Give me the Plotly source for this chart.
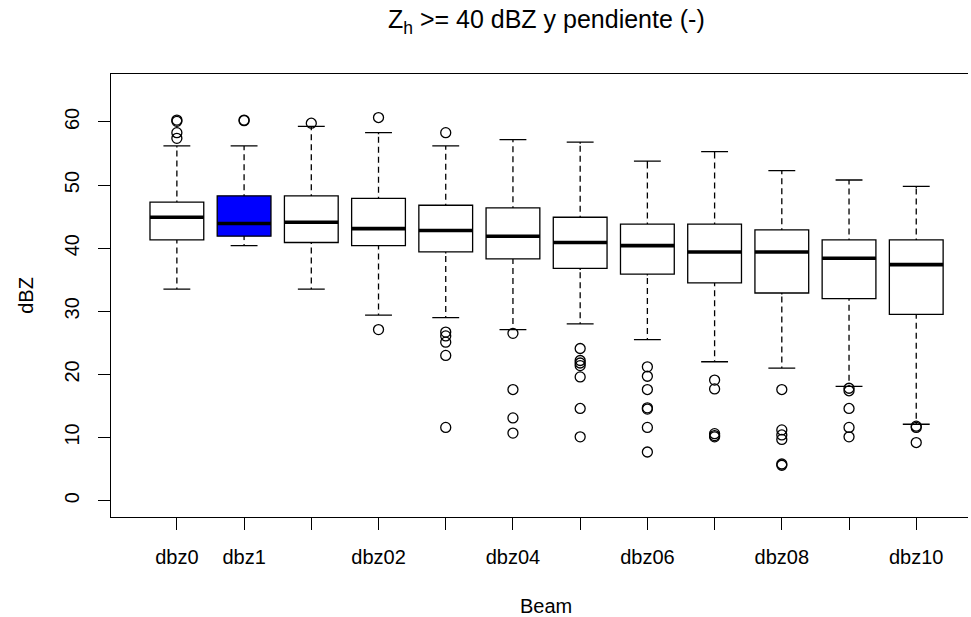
import plotly.graph_objects as go

# ---------------- data ----------------
categories = ["dbz0", "dbz1", "dbz01", "dbz02", "dbz03", "dbz04",
              "dbz05", "dbz06", "dbz07", "dbz08", "dbz09", "dbz10"]
# labels R managed to print (others were dropped for overlap)
tick_labels = ["dbz0", "dbz1", "", "dbz02", "", "dbz04",
               "", "dbz06", "", "dbz08", "", "dbz10"]

lower_whisker = [33.5, 40.4, 33.5, 29.4, 29.0, 27.1, 28.0, 25.5, 22.0, 21.0, 18.1, 12.1]
q1_values     = [41.3, 41.9, 40.9, 40.4, 39.4, 38.3, 36.8, 35.9, 34.5, 32.9, 32.0, 29.5]
median_values = [44.9, 43.9, 44.1, 43.1, 42.8, 41.9, 40.9, 40.4, 39.4, 39.4, 38.4, 37.4]
q3_values     = [47.3, 48.3, 48.3, 47.9, 46.8, 46.4, 44.9, 43.8, 43.8, 42.9, 41.3, 41.3]
upper_whisker = [56.2, 56.2, 59.3, 58.3, 56.2, 57.2, 56.8, 53.8, 55.3, 52.3, 50.8, 49.8]

outliers = [
    [60.3, 60.1, 58.3, 57.4],
    [60.3, 60.2],
    [59.8],
    [60.7, 27.1],
    [58.3, 26.7, 26.1, 25.1, 23.0, 11.6],
    [26.5, 17.6, 13.1, 10.7],
    [24.1, 22.2, 21.8, 21.4, 19.6, 14.6, 10.1],
    [21.2, 19.7, 17.6, 14.7, 14.5, 11.6, 7.7],
    [19.1, 17.7, 10.6, 10.3, 10.1],
    [17.6, 11.2, 10.4, 9.7, 5.8, 5.6],
    [17.8, 17.4, 14.6, 11.6, 10.1],
    [11.8, 11.6, 9.2],
]

fill_colors = ["white", "blue"] + ["white"] * 10

title_text = "Z<sub>h</sub> &gt;= 40 dBZ y pendiente (-)"
x_title = "Beam"
y_title = "dBZ"
y_ticks = [0, 10, 20, 30, 40, 50, 60]

# ---------------- figure ----------------
positions = list(range(1, len(categories) + 1))
label_pos = [p for p, t in zip(positions, tick_labels) if t]
label_txt = [t for t in tick_labels if t]
box_width = 0.8
half = box_width / 2

fig = go.Figure()

for i, name in enumerate(categories):
    fig.add_trace(go.Box(
        x=[positions[i]], name=name,
        q1=[q1_values[i]], median=[median_values[i]], q3=[q3_values[i]],
        lowerfence=[lower_whisker[i]], upperfence=[upper_whisker[i]],
        width=box_width, whiskerwidth=0.5,
        fillcolor=fill_colors[i],
        line=dict(color="black", width=1.3),
        boxpoints=False, hoverinfo="skip",
    ))

# dashed look of R whiskers: white dash pattern laid over the solid whisker
wx, wy = [], []
pad = 0.25
for i, p in enumerate(positions):
    wx += [p, p, None, p, p, None]
    wy += [q3_values[i] + pad, upper_whisker[i] - pad, None,
           lower_whisker[i] + pad, q1_values[i] - pad, None]
fig.add_trace(go.Scatter(
    x=wx, y=wy, mode="lines",
    line=dict(color="white", width=2.5, dash="4px,6px"),
    hoverinfo="skip", showlegend=False,
))

# thick median bars (R lwd = 3)
mx, my = [], []
for i, p in enumerate(positions):
    mx += [p - half, p + half, None]
    my += [median_values[i], median_values[i], None]
fig.add_trace(go.Scatter(
    x=mx, y=my, mode="lines",
    line=dict(color="black", width=3.6),
    hoverinfo="skip", showlegend=False,
))

# outliers
ox, oy = [], []
for i, vals in enumerate(outliers):
    ox += [positions[i]] * len(vals)
    oy += vals
fig.add_trace(go.Scatter(
    x=ox, y=oy, mode="markers",
    marker=dict(symbol="circle-open", size=10, color="black",
                line=dict(width=1.3, color="black")),
    hoverinfo="skip", showlegend=False,
))

fig.update_layout(
    width=971, height=617,
    margin=dict(l=111, r=3, t=74, b=100),
    paper_bgcolor="white", plot_bgcolor="white",
    font=dict(family="Liberation Sans, Arial, sans-serif", size=20, color="black"),
    showlegend=False,
    title=dict(text=title_text, x=0.508, xref="paper", xanchor="center",
               y=0.968, yref="container", yanchor="middle",
               font=dict(size=25, color="black")),
    xaxis=dict(
        range=[0.02, 12.77], automargin=False,
        tickmode="array", tickvals=label_pos, ticktext=label_txt,
        ticks="outside", ticklen=12, tickwidth=1.2, tickcolor="black",
        ticklabelstandoff=10,
        minor=dict(tickmode="array", tickvals=positions, ticks="outside",
                   ticklen=12, tickwidth=1.2, tickcolor="black", showgrid=False),
        showline=True, linecolor="black", linewidth=1.3, mirror=True,
        showgrid=False, zeroline=False,
    ),
    yaxis=dict(
        range=[-2.6, 67.6], automargin=False,
        tickmode="array", tickvals=y_ticks,
        tickangle=-90, ticklabelstandoff=11,
        ticks="outside", ticklen=12, tickwidth=1.2, tickcolor="black",
        showline=True, linecolor="black", linewidth=1.3, mirror=False,
        showgrid=False, zeroline=False,
    ),
    annotations=[
        dict(text=x_title, xref="paper", yref="paper", x=0.508, y=-0.2,
             xanchor="center", yanchor="middle", showarrow=False,
             font=dict(size=20)),
        dict(text=y_title, xref="paper", yref="paper", x=-0.10, y=0.5,
             textangle=-90, xanchor="center", yanchor="middle", showarrow=False,
             font=dict(size=20)),
    ],
)

fig.write_html("out.html", config={"displayModeBar": False},
               post_script="document.body.style.margin='0';document.body.style.overflow='hidden';")
